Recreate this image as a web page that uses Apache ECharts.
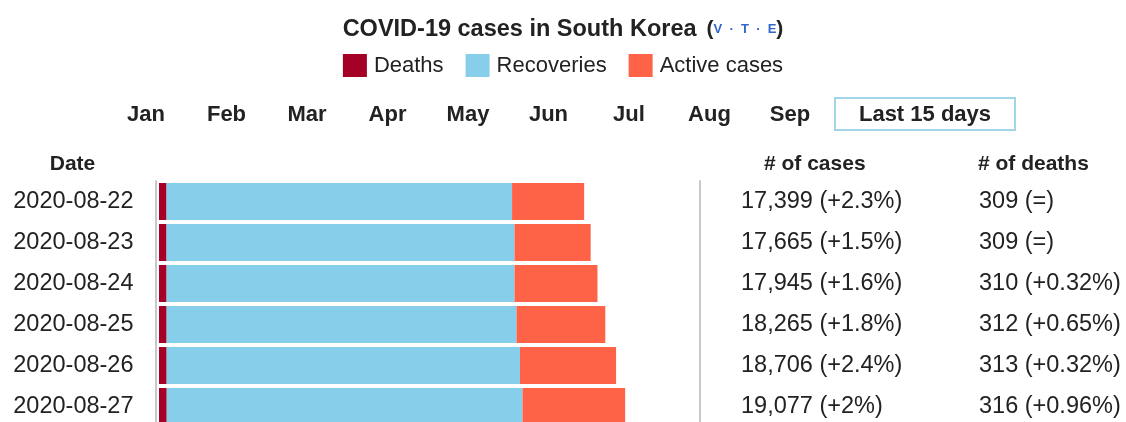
<!DOCTYPE html>
<html>
<head>
<meta charset="utf-8">
<script src="https://cdn.jsdelivr.net/npm/echarts@6/dist/echarts.min.js"></script>
<style>
  html, body { margin: 0; padding: 0; background: #fff; overflow: hidden; }
  /* table continues below the window, like the cropped reference */
  #chart { width: 1126px; height: 440px; }
</style>
</head>
<body>
<div id="chart"></div>
<script>
const dates = ["2020-08-22", "2020-08-23", "2020-08-24", "2020-08-25", "2020-08-26", "2020-08-27"];
const deaths = [309, 309, 310, 312, 313, 316];
const recoveries = [14140, 14240, 14240, 14320, 14460, 14560];
const active = [2950, 3116, 3395, 3633, 3933, 4201];
const cases = [17399, 17665, 17945, 18265, 18706, 19077];
const casesChange = ["+2.3%", "+1.5%", "+1.6%", "+1.8%", "+2.4%", "+2%"];
const deathsChange = ["=", "=", "+0.32%", "+0.65%", "+0.32%", "+0.96%"];
const months = ["Jan", "Feb", "Mar", "Apr", "May", "Jun", "Jul", "Aug", "Sep"];

const FONT = "'Liberation Sans', Arial, sans-serif";
const TEXT = "#222";
const LINE = "#c8c8c8";

const caseLabels = cases.map((c, i) => c.toLocaleString("en-US") + " (" + casesChange[i] + ")");
const deathLabels = deaths.map((d, i) => d + " (" + deathsChange[i] + ")");

// month "buttons" row
const monthTexts = months.map((m, i) => ({
  type: "text",
  x: 146 + i * 80.5,
  y: 114.5,
  style: {
    text: m, fill: TEXT, fontSize: 22, fontWeight: "bold", fontFamily: FONT,
    textAlign: "center", textVerticalAlign: "middle", align: "center", verticalAlign: "middle"
  }
}));

function header(text, x, y, align) {
  return {
    type: "text", x: x, y: y,
    style: {
      text: text, fill: TEXT, fontSize: 21, fontWeight: "bold", fontFamily: FONT,
      textAlign: align, textVerticalAlign: "middle", align: align, verticalAlign: "middle"
    }
  };
}

const chart = echarts.init(document.getElementById("chart"));
chart.setOption({
  animation: false,
  color: ["#A50026", "#87CEEB", "#FF6347"],
  title: {
    text: "{t|COVID-19 cases in South Korea}  {p|(}{v|V  ·  T  ·  E}{p|)}",
    left: "center",
    top: 12.5,
    textStyle: {
      rich: {
        t: { fontSize: 23.5, fontWeight: "bold", color: TEXT, fontFamily: FONT },
        p: { fontSize: 21, color: TEXT, fontFamily: FONT },
        v: { fontSize: 13, color: "#3366cc", fontFamily: FONT }
      }
    }
  },
  legend: {
    left: "center",
    top: 49,
    icon: "rect",
    itemWidth: 24,
    itemHeight: 23,
    itemGap: 22,
    textStyle: { fontSize: 22, color: TEXT, fontFamily: FONT, padding: [0, 0, 0, 2] },
    data: ["Deaths", "Recoveries", "Active cases"]
  },
  grid: { left: 159, right: 426, top: 181, height: 246, containLabel: false },
  xAxis: { type: "value", min: 0, max: 22140, show: false },
  yAxis: [
    {
      type: "category", data: dates, inverse: true, offset: 3.5,
      axisLine: { onZero: false, lineStyle: { color: LINE, width: 2 } },
      axisTick: { show: false },
      axisLabel: { color: TEXT, fontSize: 23.5, fontFamily: FONT, margin: 22 }
    },
    {
      type: "category", data: caseLabels, inverse: true, position: "right",
      axisLine: { show: true, onZero: false, lineStyle: { color: LINE, width: 2 } },
      axisTick: { show: false },
      axisLabel: { color: TEXT, fontSize: 23.5, fontFamily: FONT, margin: 41 }
    },
    {
      type: "category", data: deathLabels, inverse: true, position: "right", offset: 238,
      axisLine: { show: false, onZero: false },
      axisTick: { show: false },
      axisLabel: { color: TEXT, fontSize: 23.5, fontFamily: FONT, margin: 41 }
    }
  ],
  series: [
    { name: "Deaths", type: "bar", stack: "total", barWidth: 37, data: deaths },
    { name: "Recoveries", type: "bar", stack: "total", barWidth: 37, data: recoveries },
    { name: "Active cases", type: "bar", stack: "total", barWidth: 37, data: active }
  ],
  graphic: monthTexts.concat([
    {
      type: "rect",
      shape: { x: 835, y: 98, width: 180, height: 32 },
      style: { fill: "#fff", stroke: "#a3d5e8", lineWidth: 2 }
    },
    {
      type: "text", x: 925, y: 114.5, z: 10,
      style: {
        text: "Last 15 days", fill: TEXT, fontSize: 22, fontWeight: "bold", fontFamily: FONT,
        textAlign: "center", textVerticalAlign: "middle", align: "center", verticalAlign: "middle"
      }
    },
    header("Date", 72.5, 164, "center"),
    header("# of cases", 764, 164, "left"),
    header("# of deaths", 978, 164, "left")
  ])
});
</script>
</body>
</html>
